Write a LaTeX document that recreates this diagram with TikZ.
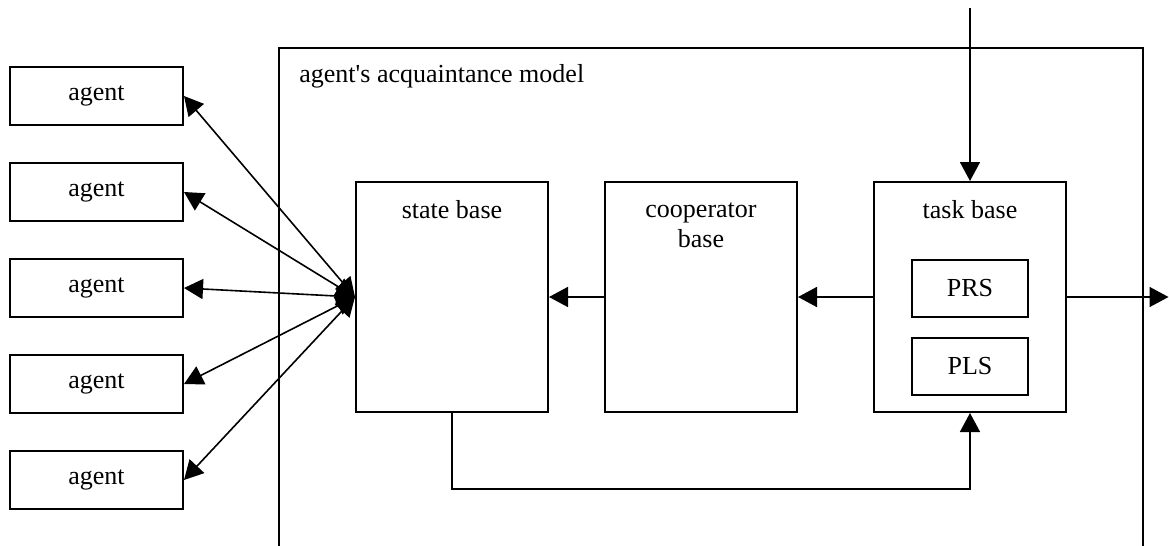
\documentclass[tikz,border=0pt]{standalone}
\usepackage{fontspec}
\setmainfont{Liberation Serif}
\usetikzlibrary{arrows.meta,positioning}
\tikzstyle{agentbox} = [draw=black, line width=1pt, rectangle,
    minimum width=86.5pt, minimum height=29pt, inner sep=0]
\tikzstyle{basebox} = [draw=black, line width=1pt, rectangle,
    minimum width=96pt, minimum height=115pt, inner sep=0]
\tikzstyle{subbox} = [draw=black, line width=1pt, rectangle,
    minimum width=58pt, minimum height=28.5pt, inner sep=0]
\tikzstyle{link} = [line width=0.8pt, -{Triangle[length=9.5pt,width=10pt]}]
\tikzstyle{duplex} = [line width=0.8pt,
    {Triangle[length=9.5pt,width=10pt]}-{Triangle[length=9.5pt,width=10pt]}]

\begin{document}
\begin{tikzpicture}[x=0.5pt, y=-0.5pt, font=\fontsize{13}{15}\selectfont]
\useasboundingbox (0,0) rectangle (1169,546);
% model frame, open at the bottom
\draw[line width=0.8pt] (279,546) -- (279,48) -- (1143,48) -- (1143,546);
\node[anchor=base west, inner sep=0] (modeltitle) at (299,83)
    {agent\textquotesingle s acquaintance model};

% agents outside the model
\node[agentbox] (agent1) at (96.5,96) {agent};
\node[agentbox] (agent2) at (96.5,192) {agent};
\node[agentbox] (agent3) at (96.5,288) {agent};
\node[agentbox] (agent4) at (96.5,384) {agent};
\node[agentbox] (agent5) at (96.5,480) {agent};

% the three bases
\node[basebox] (state) at (452,297) {};
\node[basebox] (coop) at (701,297) {};
\node[basebox] (task) at (970,297) {};
\node[anchor=base] (statetitle) at (452,218) {state base};
\node[anchor=base] (cooptitle) at (701,217) {cooperator};
\node[anchor=base] (cooptitle2) at (701,247) {base};
\node[anchor=base] (tasktitle) at (970,218) {task base};
\node[subbox] (prs) at (970,288) {PRS};
\node[subbox, below=9.5pt of prs] (pls) {PLS};

% outside connections
\coordinate (taskin) at (970,8);
\coordinate (taskout) at (1168.5,297);
\draw[link] (taskin) -- (task.north);
\draw[link] (task.east) -- (taskout);

% flow between the bases
\draw[link] (task.west) -- (coop.east);
\draw[link] (coop.west) -- (state.east);
\draw[link] (state.south) |- (701,489) -| (task.south);

% state base talks to every agent
\draw[duplex] (state.west) -- (agent1.east);
\draw[duplex] (state.west) -- (agent2.east);
\draw[duplex] (state.west) -- (agent3.east);
\draw[duplex] (state.west) -- (agent4.east);
\draw[duplex] (state.west) -- (agent5.east);
\end{tikzpicture}
\end{document}
